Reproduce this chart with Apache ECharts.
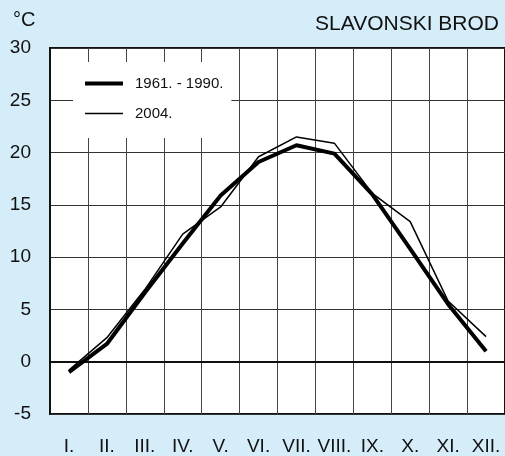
<!DOCTYPE html>
<html>
<head>
<meta charset="utf-8">
<script src="https://cdn.jsdelivr.net/npm/echarts@6/dist/echarts.min.js"></script>
<style>
  html, body { margin: 0; padding: 0; background: #d5ecf9; }
  #chart { width: 505px; height: 456px; }
</style>
</head>
<body>
<div id="chart"></div>
<script>
// months (roman numerals)
let months = ["I.", "II.", "III.", "IV.", "V.", "VI.", "VII.", "VIII.", "IX.", "X.", "XI.", "XII."];
// mean air temperature, °C
let mean6190 = [-1.0, 1.7, 6.6, 11.3, 15.9, 19.1, 20.7, 19.9, 16.0, 10.8, 5.5, 1.0];
let year2004 = [-0.8, 2.3, 6.9, 12.2, 14.8, 19.6, 21.5, 20.9, 16.1, 13.4, 5.8, 2.4];
let yTicks = { min: -5, max: 30, step: 5 };

let chart = echarts.init(document.getElementById("chart"));

let option = {
    backgroundColor: "#d5ecf9",
    animation: false,
    textStyle: { fontFamily: "Liberation Sans, Arial, sans-serif" },
    title: [
        {
            text: "°C",
            left: 13, top: 10, padding: 0,
            textStyle: { fontSize: 20, fontWeight: "normal", color: "#111" }
        },
        {
            text: "SLAVONSKI BROD",
            right: 6, top: 14, padding: 0,
            textStyle: { fontSize: 21, fontWeight: "normal", color: "#111" }
        }
    ],
    legend: {
        orient: "vertical",
        left: 73, top: 62,
        padding: [14, 8, 17, 12],
        itemGap: 15,
        itemWidth: 38,
        itemHeight: 14,
        backgroundColor: "#fff",
        textStyle: { fontSize: 15, color: "#111", padding: [0, 0, 0, 7] },
        // flat bars as line samples: thick for the normal, thin for 2004
        data: [
            { name: "1961. - 1990.", icon: "path://M0,0H38V4H0Z", itemStyle: { color: "#000" } },
            { name: "2004.", icon: "path://M0,0H38V1.5H0Z", itemStyle: { color: "#000" } }
        ]
    },
    grid: {
        left: 50, right: -2, top: 48, bottom: 41,
        show: true,
        backgroundColor: "#fff",
        borderColor: "#111",
        borderWidth: 2
    },
    xAxis: {
        type: "category",
        data: months,
        boundaryGap: true,
        axisLine: { lineStyle: { color: "#111", width: 2 } },
        axisTick: { show: false },
        axisLabel: { fontSize: 19, color: "#111", margin: 23, interval: 0 },
        splitLine: { show: true, lineStyle: { color: "#444", width: 1 } }
    },
    yAxis: {
        type: "value",
        min: yTicks.min, max: yTicks.max, interval: yTicks.step,
        axisLine: { show: true, lineStyle: { color: "#111", width: 2 } },
        axisTick: { show: false },
        axisLabel: { fontSize: 19, color: "#111", margin: 19 },
        splitLine: { show: true, lineStyle: { color: "#333", width: 1 } }
    },
    series: [
        {
            name: "1961. - 1990.",
            type: "line",
            data: mean6190,
            symbol: "none",
            lineStyle: { color: "#000", width: 4 },
            itemStyle: { color: "#000" }
        },
        {
            name: "2004.",
            type: "line",
            data: year2004,
            symbol: "none",
            lineStyle: { color: "#000", width: 1.5 },
            itemStyle: { color: "#000" }
        }
    ]
};

chart.setOption(option);
</script>
</body>
</html>
